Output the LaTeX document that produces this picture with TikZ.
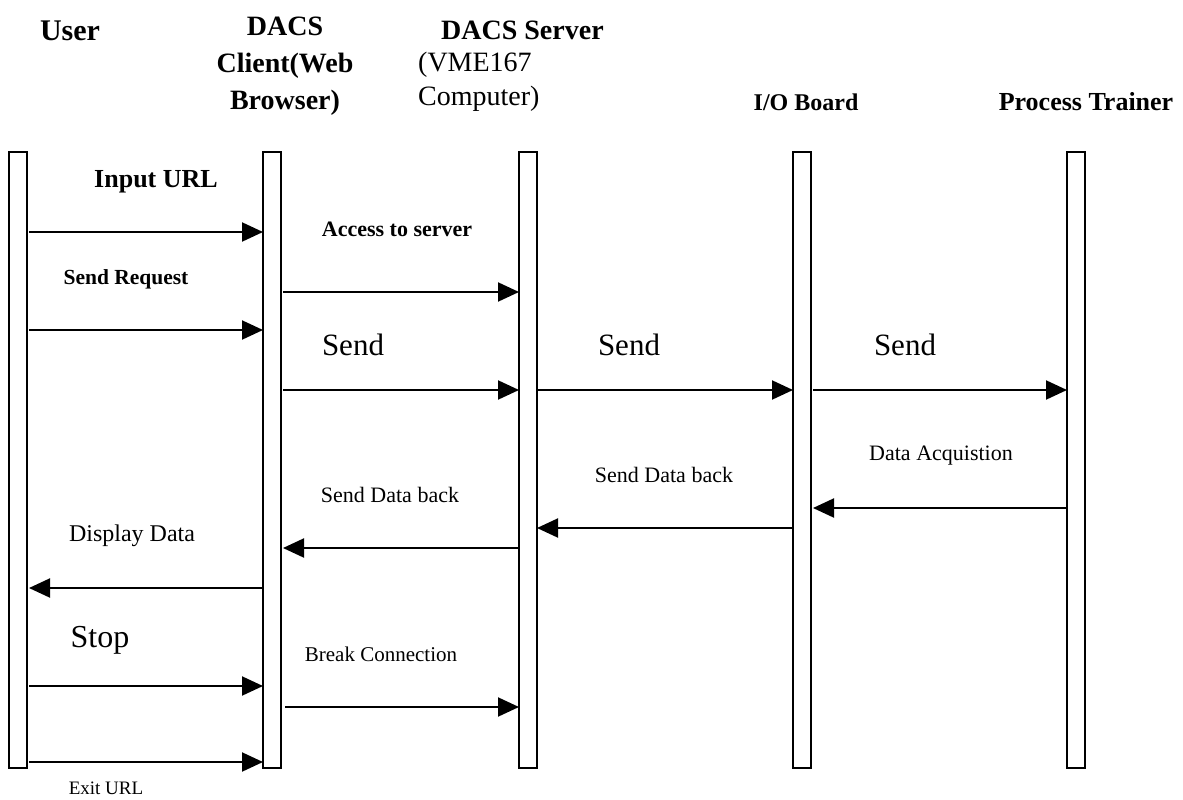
\documentclass[tikz,border=0pt]{standalone}
\usepackage{fontspec}
\setmainfont{Liberation Serif}
\usetikzlibrary{arrows.meta}
\tikzset{
  lifeline/.style={draw, line width=2pt, minimum width=18pt, minimum height=616pt, inner sep=0pt, outer sep=0pt},
  msg/.style={line width=2pt, -{Triangle[length=21pt,width=19pt]}},
  rm/.style={inner sep=0pt, font=\fontsize{#1}{#1}\selectfont},
  bf/.style={inner sep=0pt, font=\fontsize{#1}{#1}\selectfont\bfseries},
}
\begin{document}
\begin{tikzpicture}[x=1pt, y=-1pt]
\useasboundingbox (0,0) rectangle (1183,800);

% column headings
\node[bf=30] (tUser) at (70,31) {User};
\node[inner sep=0pt, align=center, font=\fontsize{28}{37}\selectfont\bfseries] (tClient) at (285,66) {DACS\\Client(Web\\Browser)};
\node[bf=28, anchor=west] (tServer) at (441,30) {DACS Server};
\node[rm=28, anchor=west] (tVme) at (418,65) {(VME167};
\node[rm=28, anchor=west] (tComp) at (418,99) {Computer)};
\node[bf=24] (tIO) at (806,102) {I/O Board};
\node[bf=26] (tTrainer) at (1086,102) {Process Trainer};

% lifelines
\node[lifeline] (user) at (18,460) {};
\node[lifeline] (client) at (272,460) {};
\node[lifeline] (server) at (528,460) {};
\node[lifeline] (io) at (802,460) {};
\node[lifeline] (trainer) at (1076,460) {};

% message rows
\coordinate (r1) at (0,232);
\coordinate (r2) at (0,292);
\coordinate (r3) at (0,330);
\coordinate (r4) at (0,390);
\coordinate (r5) at (0,508);
\coordinate (r6) at (0,528);
\coordinate (r7) at (0,548);
\coordinate (r8) at (0,588);
\coordinate (r9) at (0,686);
\coordinate (r10) at (0,707);
\coordinate (r11) at (0,762);

\draw[msg] ([xshift=2pt]user.east |- r1) -- (client.west |- r1);
\draw[msg] ([xshift=2pt]client.east |- r2) -- (server.west |- r2);
\draw[msg] ([xshift=2pt]user.east |- r3) -- (client.west |- r3);
\draw[msg] ([xshift=2pt]client.east |- r4) -- (server.west |- r4);
\draw[msg] (server.east |- r4) -- (io.west |- r4);
\draw[msg] ([xshift=2pt]io.east |- r4) -- (trainer.west |- r4);
\draw[msg] (trainer.west |- r5) -- ([xshift=2pt]io.east |- r5);
\draw[msg] (io.west |- r6) -- (server.east |- r6);
\draw[msg] (server.west |- r7) -- ([xshift=2pt]client.east |- r7);
\draw[msg] (client.west |- r8) -- ([xshift=2pt]user.east |- r8);
\draw[msg] ([xshift=2pt]user.east |- r9) -- (client.west |- r9);
\draw[msg] ([xshift=4pt]client.east |- r10) -- (server.west |- r10);
\draw[msg] ([xshift=2pt]user.east |- r11) -- (client.west |- r11);

% message labels
\node[bf=26] (lInput) at (156,182) {Input URL};
\node[bf=22] (lAccess) at (397,229) {Access to server};
\node[bf=21.5] (lReq) at (126,279) {Send Request};
\node[rm=31] (lSend1) at (353,345) {Send};
\node[rm=31] (lSend2) at (629,345) {Send};
\node[rm=31] (lSend3) at (905,345) {Send};
\node[rm=22] (lAcq) at (941,456) {Data Acquistion};
\node[rm=22] (lBack2) at (664,475) {Send Data back};
\node[rm=22] (lBack1) at (390,495) {Send Data back};
\node[rm=24] (lDisp) at (132,536) {Display Data};
\node[rm=32] (lStop) at (100,640) {Stop};
\node[rm=21] (lBreak) at (381,654) {Break Connection};
\node[rm=19] (lExit) at (106,788) {Exit URL};
\end{tikzpicture}
\end{document}
